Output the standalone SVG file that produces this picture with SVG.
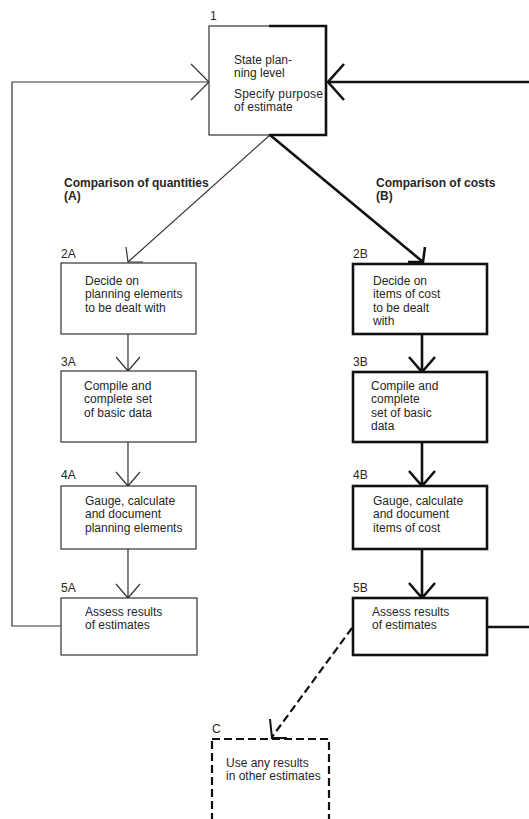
<svg xmlns="http://www.w3.org/2000/svg" width="529" height="819" viewBox="0 0 529 819">
<style>
text{font-family:"Liberation Sans",Arial,sans-serif;font-size:12px;fill:#262626}
.b{font-weight:bold}
.thin{fill:none;stroke:#333;stroke-width:1.2}
.thick{fill:none;stroke:#111;stroke-width:2.6}
.box{fill:#fff;stroke:#333;stroke-width:1.2}
.boxk{fill:#fff;stroke:#111;stroke-width:2.6}
.dash{fill:none;stroke:#111;stroke-width:2.2;stroke-dasharray:8 4}
</style>
<rect width="529" height="819" fill="#fff"/>
<g id="connectors">
  <!-- left feedback loop (A) -->
  <path class="thin" d="M61,626 H12 V82 H209"/>
  <path class="thin" d="M191,64 L209,82 L191,100"/>
  <!-- right feedback loop (B) -->
  <path class="thick" d="M487,627 H529"/>
  <path class="thick" d="M529,82 H328"/>
  <path class="thick" d="M344,64 L328,82 L344,100"/>
  <!-- branch A -->
  <path class="thin" d="M270,135 L128,262"/>
  <path class="thin" d="M126,247 L128,262 L143,262"/>
  <!-- branch B -->
  <path class="thick" d="M270,135 L423,262"/>
  <path class="thick" d="M425,247 L423,262 L408,262"/>
  <!-- column A -->
  <path class="thin" d="M128,334 V371 M116,357 L128,371 L140,357"/>
  <path class="thin" d="M128,442 V486 M116,472 L128,486 L140,472"/>
  <path class="thin" d="M128,549 V598 M116,584 L128,598 L140,584"/>
  <!-- column B -->
  <path class="thick" d="M422,334 V372 M409,357 L422,372 L435,357"/>
  <path class="thick" d="M422,442 V486 M409,471 L422,486 L435,471"/>
  <path class="thick" d="M422,549 V598 M409,583 L422,598 L435,583"/>
  <!-- dashed to C -->
  <path class="dash" d="M352,628 L272,737"/>
  <path class="thick" style="stroke-width:2" d="M270,719 L272,738 L287,738"/>
</g>
<g id="n1">
  <rect class="box" x="209" y="26" width="117" height="109"/>
  <path class="thick" d="M269,26 H326 V135 H269"/>
  <text x="210" y="20">1</text>
  <text x="234" y="64">State plan-</text>
  <text x="234" y="77">ning level</text>
  <text x="234" y="98" textLength="89">Specify purpose</text>
  <text x="234" y="111">of estimate</text>
</g>
<g id="labelA">
  <text class="b" x="64" y="187">Comparison of quantities</text>
  <text class="b" x="64" y="200">(A)</text>
</g>
<g id="labelB">
  <text class="b" x="376" y="187">Comparison of costs</text>
  <text class="b" x="376" y="200">(B)</text>
</g>
<g id="n2A">
  <rect class="box" x="61" y="263" width="135" height="71"/>
  <text x="61" y="258">2A</text>
  <text x="85" y="285">Decide on</text>
  <text x="85" y="298">planning elements</text>
  <text x="85" y="312">to be dealt with</text>
</g>
<g id="n3A">
  <rect class="box" x="61" y="371" width="135" height="71"/>
  <text x="61" y="366">3A</text>
  <text x="84" y="390">Compile and</text>
  <text x="84" y="403">complete set</text>
  <text x="84" y="417">of basic data</text>
</g>
<g id="n4A">
  <rect class="box" x="61" y="486" width="135" height="63"/>
  <text x="61" y="479">4A</text>
  <text x="85" y="505">Gauge, calculate</text>
  <text x="85" y="518">and document</text>
  <text x="85" y="532">planning elements</text>
</g>
<g id="n5A">
  <rect class="box" x="61" y="598" width="136" height="57"/>
  <text x="61" y="592">5A</text>
  <text x="85" y="616">Assess results</text>
  <text x="85" y="629">of estimates</text>
</g>
<g id="n2B">
  <rect class="boxk" x="353" y="264" width="134" height="70"/>
  <text x="353" y="258">2B</text>
  <text x="373" y="285">Decide on</text>
  <text x="373" y="298">items of cost</text>
  <text x="373" y="312">to be dealt</text>
  <text x="373" y="325">with</text>
</g>
<g id="n3B">
  <rect class="boxk" x="353" y="372" width="134" height="70"/>
  <text x="353" y="366">3B</text>
  <text x="371" y="390">Compile and</text>
  <text x="371" y="403">complete</text>
  <text x="371" y="417">set of basic</text>
  <text x="371" y="430">data</text>
</g>
<g id="n4B">
  <rect class="boxk" x="353" y="486" width="134" height="63"/>
  <text x="353" y="479">4B</text>
  <text x="373" y="505">Gauge, calculate</text>
  <text x="373" y="518">and document</text>
  <text x="373" y="532">items of cost</text>
</g>
<g id="n5B">
  <rect class="boxk" x="353" y="598" width="134" height="57"/>
  <text x="353" y="592">5B</text>
  <text x="372" y="616">Assess results</text>
  <text x="372" y="629">of estimates</text>
</g>
<g id="nC">
  <rect class="dash" style="fill:#fff" x="212" y="739" width="117" height="110"/>
  <text x="212" y="733">C</text>
  <text x="226" y="767">Use any results</text>
  <text x="226" y="780">in other estimates</text>
</g>
</svg>
